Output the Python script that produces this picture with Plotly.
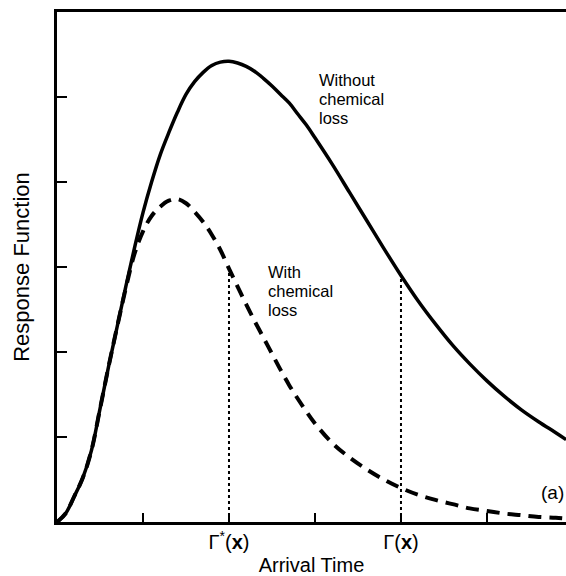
import numpy as np
import plotly.graph_objects as go

# ---- data ----
t_without = [0.0, 0.1, 0.2, 0.3, 0.4, 0.5, 0.6, 0.7, 0.8, 0.9, 1.0, 1.1, 1.2, 1.3, 1.4,
             1.5, 1.6, 1.7, 1.8, 1.9, 2.0, 2.1, 2.2, 2.3, 2.4, 2.5, 2.6, 2.7, 2.8, 2.9,
             3.0, 3.2, 3.4, 3.6, 3.8, 4.0, 4.2, 4.4, 4.6, 4.8, 5.0, 5.2, 5.4, 5.6, 5.8, 5.92]
v_without = [0.0, 0.10, 0.30, 0.52, 0.84, 1.33, 1.83, 2.30, 2.77, 3.22, 3.64, 4.00, 4.32,
             4.58, 4.82, 5.03, 5.18, 5.29, 5.37, 5.41, 5.42, 5.40, 5.36, 5.30, 5.22, 5.13,
             5.03, 4.93, 4.80, 4.67, 4.52, 4.21, 3.88, 3.55, 3.22, 2.90, 2.60, 2.33, 2.08,
             1.86, 1.66, 1.48, 1.32, 1.18, 1.05, 0.97]

t_with = [0.0, 0.1, 0.2, 0.3, 0.4, 0.5, 0.6, 0.7, 0.8, 0.9, 1.0, 1.1, 1.2, 1.3, 1.4,
          1.5, 1.6, 1.7, 1.8, 1.9, 2.0, 2.1, 2.2, 2.3, 2.4, 2.5, 2.6, 2.7, 2.8, 2.9,
          3.0, 3.2, 3.4, 3.6, 3.8, 4.0, 4.2, 4.4, 4.6, 4.8, 5.0, 5.2, 5.4, 5.6, 5.8, 5.92]
v_with = [0.0, 0.10, 0.30, 0.52, 0.84, 1.33, 1.83, 2.30, 2.75, 3.15, 3.42, 3.60, 3.71,
          3.78, 3.80, 3.75, 3.65, 3.53, 3.38, 3.20, 2.98, 2.77, 2.56, 2.36, 2.17, 1.98,
          1.79, 1.61, 1.45, 1.30, 1.16, 0.93, 0.76, 0.62, 0.50, 0.40, 0.32, 0.26, 0.21,
          0.16, 0.13, 0.10, 0.08, 0.06, 0.05, 0.04]

x_label_vals = [2, 4]
x_label_text = ["Γ<sup>*</sup>(<b>x</b>)", "Γ(<b>x</b>)"]
x_minor_vals = [1, 3, 5]
y_tickvals = [1, 2, 3, 4, 5]

gamma_star = 2.0   # mean arrival time with chemical loss
gamma = 4.0        # mean arrival time without chemical loss

label_without = ["Without", "chemical", "loss"]
label_with = ["With", "chemical", "loss"]

FONT = "Liberation Sans, Arial, Helvetica, sans-serif"

# geometry (pixels)
W, H = 566, 576
ML, MT, MB, MR = 57, 12, 54, 0
PW, PH = W - ML - MR, H - MT - MB
X_MAX = 5.919
Y_MAX = 6.0


def px_x(px):
    return (px - ML) / PW


def px_y(py):
    return (H - MB - py) / PH


def block(lines, size):
    return "<br>".join(f'<span style="font-size:{size}px">{s}</span>' for s in lines)


fig = go.Figure()

# dotted reference lines
h_star = float(np.interp(gamma_star, t_with, v_with))
h_gamma = float(np.interp(gamma, t_without, v_without))
for tx, hh in [(gamma_star, h_star), (gamma, h_gamma)]:
    fig.add_trace(go.Scatter(x=[tx, tx], y=[0, hh], mode="lines",
                             line=dict(color="black", width=2, dash="dot"),
                             hoverinfo="skip", showlegend=False))

fig.add_trace(go.Scatter(x=t_without, y=v_without, mode="lines",
                         line=dict(color="black", width=3.5, shape="spline", smoothing=1.0),
                         showlegend=False))
fig.add_trace(go.Scatter(x=t_with, y=v_with, mode="lines",
                         line=dict(color="black", width=4, shape="spline", smoothing=1.0,
                                   dash="13px,8px"),
                         showlegend=False))

annotations = [
    dict(x=px_x(317), y=px_y(99), xref="paper", yref="paper",
         text=block(label_without, 16.5), showarrow=False, xanchor="left", yanchor="middle",
         align="left", font=dict(family=FONT, size=14.8, color="black")),
    dict(x=px_x(266), y=px_y(291), xref="paper", yref="paper",
         text=block(label_with, 16.5), showarrow=False, xanchor="left", yanchor="middle",
         align="left", font=dict(family=FONT, size=14.8, color="black")),
    dict(x=px_x(566), y=px_y(492), xref="paper", yref="paper", text="(a)",
         showarrow=False, xanchor="right", yanchor="middle",
         font=dict(family=FONT, size=19, color="black")),
]

fig.update_layout(
    width=W, height=H,
    margin=dict(l=ML, r=MR, t=MT, b=MB, pad=0),
    paper_bgcolor="white", plot_bgcolor="white",
    annotations=annotations,
    xaxis=dict(range=[0, X_MAX], tickmode="array", tickvals=x_label_vals,
               ticktext=x_label_text,
               ticks="inside", ticklen=9, tickwidth=2, tickcolor="black",
               minor=dict(tickmode="array", tickvals=x_minor_vals, ticks="inside",
                          ticklen=9, tickwidth=2, tickcolor="black", showgrid=False),
               showline=True, linecolor="black", linewidth=3, mirror=True,
               showgrid=False, zeroline=False,
               tickfont=dict(family=FONT, size=20, color="black"),
               title=dict(text="Arrival Time", standoff=6,
                          font=dict(family=FONT, size=20, color="black"))),
    yaxis=dict(range=[0, Y_MAX], tickvals=y_tickvals, showticklabels=False,
               ticks="inside", ticklen=10, tickwidth=2, tickcolor="black",
               showline=True, linecolor="black", linewidth=3, mirror=False,
               showgrid=False, zeroline=False,
               title=dict(text="Response Function", standoff=19,
                          font=dict(family=FONT, size=22, color="black"))),
)

fig.write_html("out.html")
